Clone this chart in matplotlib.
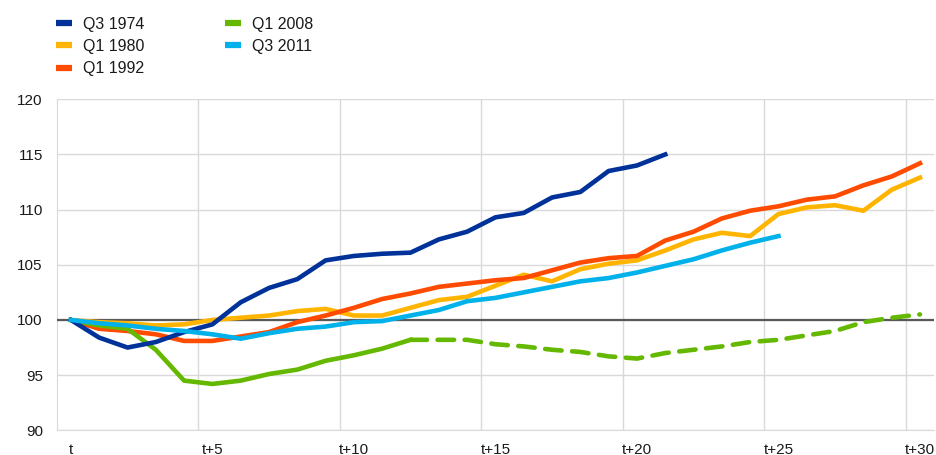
import matplotlib
matplotlib.use("Agg")
import matplotlib.pyplot as plt
from matplotlib.lines import Line2D

plt.rcParams["font.family"] = ["Liberation Sans", "DejaVu Sans"]

# quarters after the start of each episode
x_labels = ["t", "t+5", "t+10", "t+15", "t+20", "t+25", "t+30"]

q3_1974 = [100, 98.4, 97.5, 98.0, 98.9, 99.6, 101.6, 102.9, 103.7, 105.4, 105.8,
           106.0, 106.1, 107.3, 108.0, 109.3, 109.7, 111.1, 111.6, 113.5, 114.0, 115.0]
q1_1980 = [100, 99.8, 99.7, 99.5, 99.6, 100.0, 100.2, 100.4, 100.8, 101.0, 100.4,
           100.4, 101.1, 101.8, 102.1, 103.1, 104.1, 103.5, 104.6, 105.1, 105.4,
           106.3, 107.3, 107.9, 107.6, 109.6, 110.2, 110.4, 109.9, 111.8, 112.9]
q1_1992 = [100, 99.2, 99.0, 98.7, 98.1, 98.1, 98.5, 98.9, 99.8, 100.4, 101.1,
           101.9, 102.4, 103.0, 103.3, 103.6, 103.8, 104.5, 105.2, 105.6, 105.8,
           107.2, 108.0, 109.2, 109.9, 110.3, 110.9, 111.2, 112.2, 113.0, 114.2]
q1_2008 = [100, 99.5, 99.2, 97.3, 94.5, 94.2, 94.5, 95.1, 95.5, 96.3, 96.8,
           97.4, 98.2, 98.2, 98.2, 97.8, 97.6, 97.3, 97.1, 96.7, 96.5,
           97.0, 97.3, 97.6, 98.0, 98.2, 98.6, 99.0, 99.8, 100.2, 100.5]
q3_2011 = [100, 99.7, 99.5, 99.2, 99.0, 98.7, 98.3, 98.8, 99.2, 99.4, 99.8,
           99.9, 100.4, 100.9, 101.7, 102.0, 102.5, 103.0, 103.5, 103.8, 104.3,
           104.9, 105.5, 106.3, 107.0, 107.6]
dash_from = 12  # Q1 2008 shown dashed from here on

c_blue = "#003299"
c_yellow = "#FFB400"
c_red = "#FF4B00"
c_green = "#65B800"
c_cyan = "#00B1EA"

fig = plt.figure(figsize=(9.36, 4.55), dpi=100)
ax = fig.add_axes([0.0606, 0.0543, 0.9374, 0.7275])

lw = 3.3
ax.plot(range(len(q3_1974)), q3_1974, color=c_blue, lw=lw, zorder=5)
ax.plot(range(len(q1_1980)), q1_1980, color=c_yellow, lw=lw, zorder=4)
ax.plot(range(len(q1_1992)), q1_1992, color=c_red, lw=lw, zorder=4)
ax.plot(range(dash_from + 1), q1_2008[:dash_from + 1], color=c_green, lw=lw, zorder=4)
ax.plot(range(dash_from, len(q1_2008)), q1_2008[dash_from:], color=c_green, lw=lw,
        dashes=(3.6, 2.3), dash_capstyle="round", zorder=4)
ax.plot(range(len(q3_2011)), q3_2011, color=c_cyan, lw=lw, zorder=6)

ax.axhline(100, color="#595959", lw=1.6, zorder=3)

ax.set_xlim(-0.5, 30.5)
ax.set_ylim(90, 120)
ax.set_yticks(range(90, 121, 5))
ax.set_xticks(range(0, 31, 5))
ax.set_xticklabels(x_labels)
ax.set_xticks([i + 0.5 for i in range(4, 30, 5)], minor=True)
ax.grid(True, which="minor", axis="x", color="#d9d9d9", lw=1)
ax.grid(True, which="major", axis="y", color="#d9d9d9", lw=1)
ax.set_axisbelow(True)
for s in ["top", "right"]:
    ax.spines[s].set_visible(False)
for s in ["left", "bottom"]:
    ax.spines[s].set_color("#d9d9d9")
ax.tick_params(which="both", length=0, labelsize=11, colors="#1a1a1a")
ax.tick_params(axis="x", pad=9)
ax.tick_params(axis="y", pad=10)

handles = [Line2D([], [], color=c, lw=4.5, solid_capstyle="butt") for c in
           [c_blue, c_yellow, c_red, c_green, c_cyan]]
labels = ["Q3 1974", "Q1 1980", "Q1 1992", "Q1 2008", "Q3 2011"]
leg = fig.legend(handles, labels, loc="upper left", bbox_to_anchor=(0.06, 0.963), ncol=2,
                 frameon=False, fontsize=11.5, handlelength=1.0, handletextpad=0.7,
                 columnspacing=5.0, labelspacing=0.45, borderpad=0, borderaxespad=0)
for t in leg.get_texts():
    t.set_color("#1a1a1a")

fig.savefig("out.png", dpi=100)
